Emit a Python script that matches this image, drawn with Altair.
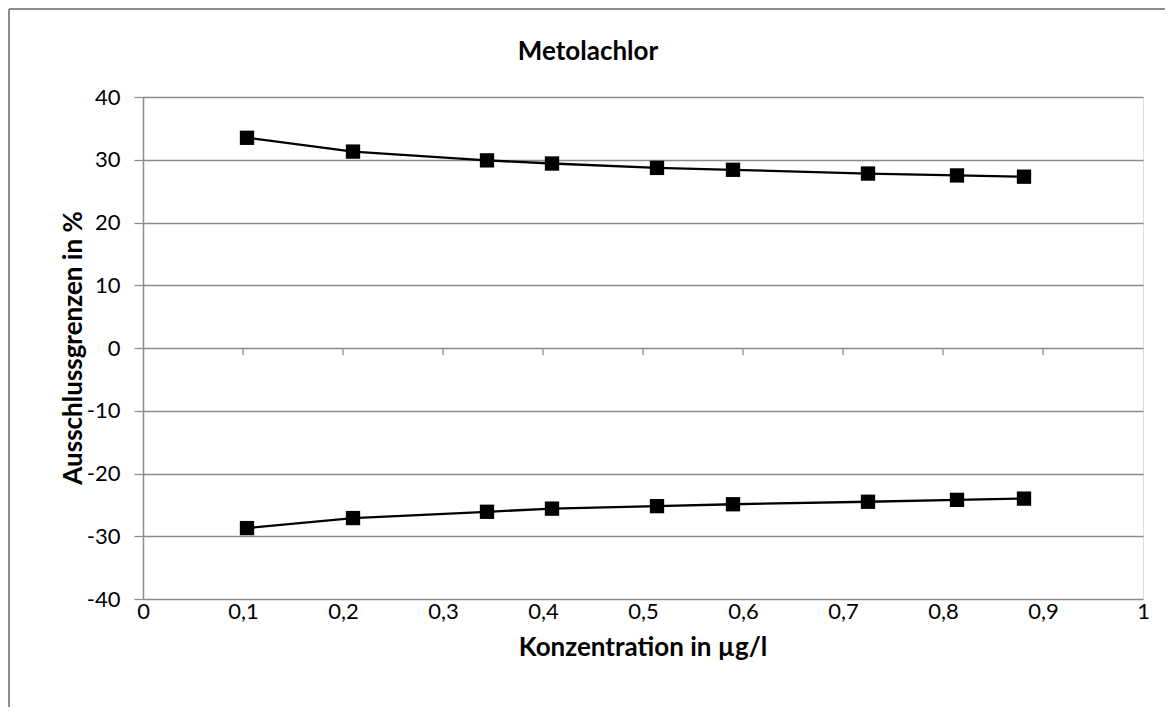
import altair as alt
import pandas as pd

# Data
x_conc = [0.104, 0.21, 0.344, 0.409, 0.514, 0.59, 0.725, 0.814, 0.881]
upper = [33.5, 31.3, 29.9, 29.4, 28.7, 28.4, 27.8, 27.5, 27.3]
lower = [-28.7, -27.1, -26.1, -25.6, -25.2, -24.9, -24.5, -24.2, -24.0]
x_ticks = [0, 0.1, 0.2, 0.3, 0.4, 0.5, 0.6, 0.7, 0.8, 0.9, 1]
y_ticks = [-40, -30, -20, -10, 0, 10, 20, 30, 40]
chart_title = ["Metolachlor"]
x_title = ["Konzentration in µg/l"]
y_title = ["Ausschlussgrenzen in %"]

rows = []
for xv, u in zip(x_conc, upper):
    rows.append({"x": xv, "y": u, "series": "obere Grenze"})
for xv, l in zip(x_conc, lower):
    rows.append({"x": xv, "y": l, "series": "untere Grenze"})
df = pd.DataFrame(rows)
ticks_df = pd.DataFrame({"x": x_ticks[1:-1], "y0": [0] * 9, "y1": [-1.15] * 9})

FONT = "Lato"
GRID = "#8c8c8c"
LABEL_SIZE = 22
TITLE_SIZE = 26

xscale = alt.Scale(domain=[0, 1], nice=False, zero=False)
yscale = alt.Scale(domain=[-40, 40], nice=False)

x_enc = alt.X(
    "x:Q",
    scale=xscale,
    title="",
    axis=alt.Axis(
        values=x_ticks,
        labelExpr="replace('' + datum.value, '.', ',')",
        labelFlush=False,
        ticks=False,
        domain=False,
        grid=False,
        labelPadding=2,
        labelFontSize=LABEL_SIZE,
        labelFont=FONT,
        labelColor="#000000",
    ),
)
y_enc = alt.Y(
    "y:Q",
    scale=yscale,
    title="",
    axis=alt.Axis(
        values=y_ticks,
        labelExpr="'' + datum.value",
        labelFlush=False,
        grid=True,
        gridColor=GRID,
        gridWidth=1.3,
        gridOpacity=1,
        domain=True,
        domainColor=GRID,
        domainWidth=1.5,
        ticks=True,
        tickColor=GRID,
        tickSize=9,
        tickWidth=1.3,
        labelPadding=14,
        labelFontSize=LABEL_SIZE,
        labelFont=FONT,
        labelColor="#000000",
    ),
)

base = alt.Chart(df)
lines = base.mark_line(color="black", strokeWidth=2.3).encode(x=x_enc, y=y_enc, detail="series:N")
points = base.mark_point(shape="square", filled=True, color="black", size=205, opacity=1).encode(
    x="x:Q", y="y:Q"
)

zero_ticks = alt.Chart(ticks_df).mark_rule(color=GRID, strokeWidth=1.3).encode(
    x="x:Q", y="y0:Q", y2="y1"
)

one = pd.DataFrame({"a": [0]})
border_top = alt.Chart(one).mark_rule(color=GRID, strokeWidth=2).encode(
    x=alt.value(-134), x2=alt.value(1100), y=alt.value(-88)
)
border_left = alt.Chart(one).mark_rule(color=GRID, strokeWidth=2).encode(
    x=alt.value(-134), y=alt.value(-88), y2=alt.value(700)
)

title_text = alt.Chart(pd.DataFrame({"t": chart_title})).mark_text(
    font=FONT, fontSize=TITLE_SIZE, fontWeight="bold", color="black", baseline="middle", align="center"
).encode(text="t:N", x=alt.value(445), y=alt.value(-45))

xtitle_text = alt.Chart(pd.DataFrame({"t": x_title})).mark_text(
    font=FONT, fontSize=TITLE_SIZE, fontWeight="bold", color="black", baseline="middle", align="center"
).encode(text="t:N", x=alt.value(500), y=alt.value(551))

ytitle_text = alt.Chart(pd.DataFrame({"t": y_title})).mark_text(
    font=FONT, fontSize=TITLE_SIZE, fontWeight="bold", color="black", baseline="middle", align="center",
    angle=270,
).encode(text="t:N", x=alt.value(-69), y=alt.value(251))

chart = (
    alt.layer(zero_ticks, lines, points, border_top, border_left, title_text, xtitle_text, ytitle_text)
    .properties(
        width=1000,
        height=502,
        padding={"left": 135, "top": 89, "right": 22, "bottom": 108},
        autosize=alt.AutoSizeParams(type="none"),
    )
    .configure_view(stroke=GRID, strokeWidth=1.5)
    .configure(background="white")
)

chart.save("out.html", embed_options={"renderer": "svg", "actions": False})
